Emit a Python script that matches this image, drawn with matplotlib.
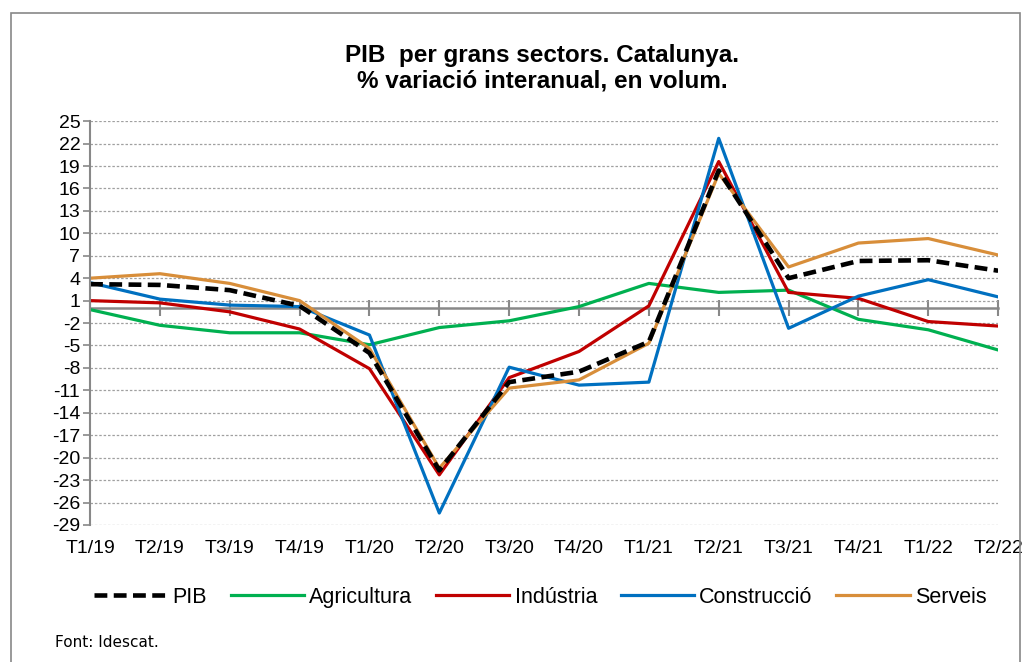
import matplotlib
matplotlib.use("Agg")
import matplotlib.pyplot as plt
from matplotlib.patches import Rectangle

quarters = ["T1/19", "T2/19", "T3/19", "T4/19", "T1/20", "T2/20", "T3/20",
            "T4/20", "T1/21", "T2/21", "T3/21", "T4/21", "T1/22", "T2/22"]
pib = [3.2, 3.1, 2.4, 0.3, -6.0, -21.7, -9.9, -8.5, -4.5, 18.4, 4.0, 6.3, 6.4, 5.0]
agricultura = [-0.2, -2.3, -3.3, -3.3, -4.9, -2.6, -1.7, 0.2, 3.3, 2.1, 2.4, -1.5, -2.9, -5.6]
industria = [1.0, 0.7, -0.5, -2.8, -8.1, -22.3, -9.3, -5.8, 0.3, 19.6, 2.1, 1.3, -1.8, -2.4]
construccio = [3.4, 1.2, 0.4, 0.2, -3.6, -27.4, -7.9, -10.3, -9.9, 22.7, -2.7, 1.6, 3.8, 1.5]
serveis = [4.0, 4.6, 3.3, 1.0, -5.4, -21.4, -10.7, -9.6, -4.7, 18.0, 5.5, 8.7, 9.3, 7.1]
yticks = list(range(25, -30, -3))

plt.rcParams["font.family"] = ["Liberation Sans", "DejaVu Sans"]
plt.rcParams["axes.unicode_minus"] = False

fig = plt.figure(figsize=(10.29, 6.62), dpi=100)
ax = fig.add_axes([0.0875, 0.207, 0.8825, 0.610])
x = range(len(quarters))

ax.plot(x, agricultura, color="#00B050", lw=2.3, label="Agricultura")
ax.plot(x, industria, color="#C00000", lw=2.3, label="Indústria")
ax.plot(x, construccio, color="#0070C0", lw=2.3, label="Construcció")
ax.plot(x, serveis, color="#D88E3A", lw=2.3, label="Serveis")
ax.plot(x, pib, color="black", lw=3.3, ls=(0, (2.8, 1.4)), label="PIB")

ax.set_xlim(0, len(quarters) - 1)
ax.set_ylim(-29, 25)
ax.set_yticks(yticks)
ax.tick_params(axis="y", labelsize=14, length=5, color="#888888", width=1.2, pad=2)
ax.set_xticks(list(x))
ax.set_xticklabels(quarters)
ax.tick_params(axis="x", labelsize=14, length=0, pad=11)
ax.grid(axis="y", ls=(0, (2, 1.5)), color="#a0a0a0", lw=0.9)
for s in ["top", "right", "bottom"]:
    ax.spines[s].set_visible(False)
ax.spines["left"].set_color("#888888")
ax.spines["left"].set_linewidth(1.5)

# horizontal axis drawn at zero
sec = ax.secondary_xaxis(0, transform=ax.transData)
sec.set_xticks(list(x))
sec.tick_params(axis="x", direction="inout", length=12, color="#888888",
                width=1.5, labelbottom=False)
sec.spines["bottom"].set_color("#888888")
sec.spines["bottom"].set_linewidth(1.8)

fig.text(0.527, 0.916, "PIB  per grans sectors. Catalunya.", ha="center",
         va="center", fontsize=17.5, fontweight="bold")
fig.text(0.527, 0.878, "% variació interanual, en volum.", ha="center",
         va="center", fontsize=17.5, fontweight="bold")

h, l = ax.get_legend_handles_labels()
order = [4, 0, 1, 2, 3]
fig.legend([h[i] for i in order], [l[i] for i in order], loc="center",
           bbox_to_anchor=(0.525, 0.098), ncol=5, frameon=False, fontsize=15.5,
           handlelength=3.4, handletextpad=0.25, columnspacing=1.1)

fig.text(0.053, 0.022, "Font: Idescat.", fontsize=11,
         family=["Liberation Sans Narrow", "DejaVu Sans"])

fig.patches.append(Rectangle((0.011, -0.01), 0.98, 0.99, transform=fig.transFigure,
                             fill=False, edgecolor="#888888", lw=1.2))

fig.savefig("out.png", dpi=100)
